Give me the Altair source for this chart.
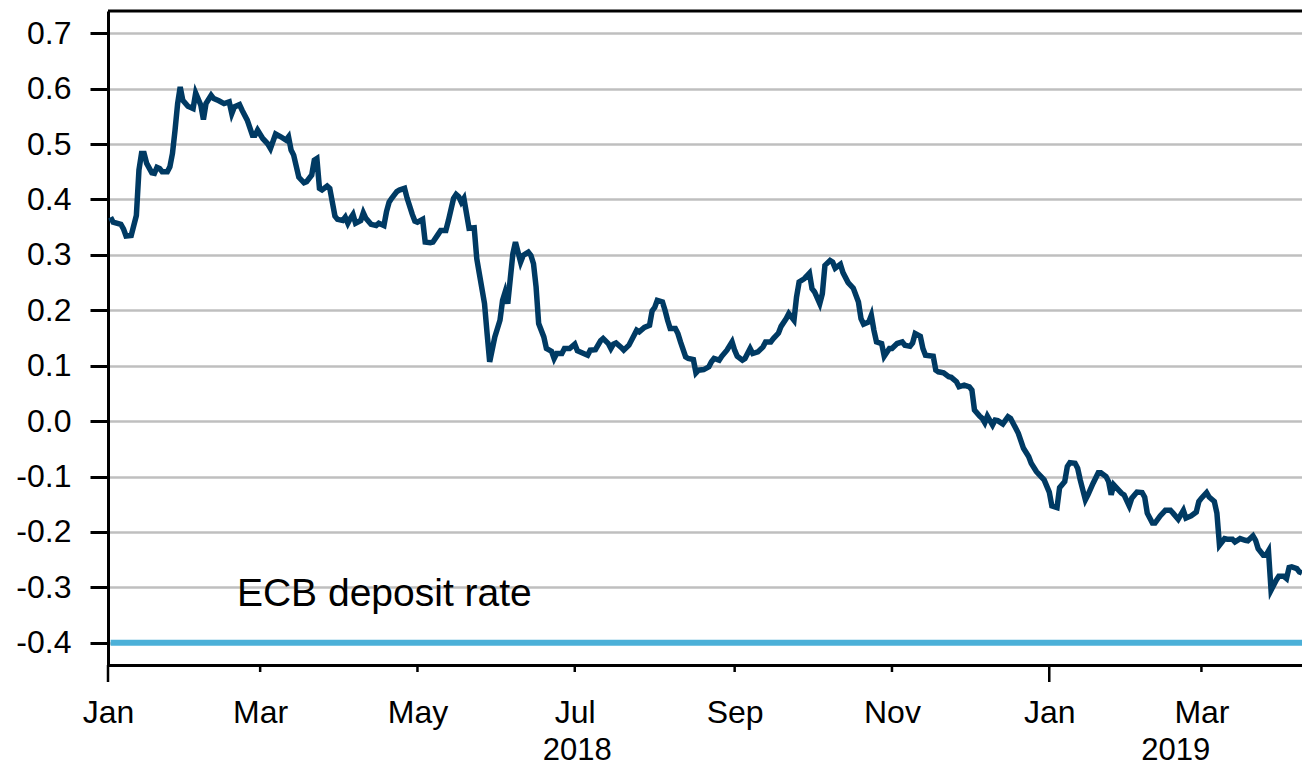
import altair as alt
import pandas as pd

# ---------------- data ----------------
start_date = "2018-01-01"
# observation dates, as days after 1 Jan 2018
day_offsets = [
    1, 2, 5, 6, 7, 9, 10, 11, 12, 13, 14, 15, 17, 18, 19, 20, 21, 23, 24, 25,
    26, 27, 28, 29, 31, 33, 34, 36, 37, 38, 40, 41, 43, 45, 47, 48, 49, 51, 52, 54,
    56, 57, 58, 60, 62, 63, 65, 67, 69, 70, 71, 72, 74, 76, 77, 79, 80, 81, 82, 83,
    85, 86, 88, 89, 91, 92, 93, 94, 95, 96, 98, 99, 100, 102, 104, 105, 107, 108, 109, 110,
    112, 113, 115, 116, 118, 119, 120, 122, 123, 125, 126, 128, 129, 131, 132, 134, 135, 136, 137, 138,
    139, 140, 142, 143, 144, 146, 147, 148, 150, 152, 153, 154, 155, 157, 158, 160, 161, 163, 164, 165,
    166, 167, 169, 170, 172, 173, 174, 176, 177, 179, 181, 182, 184, 186, 187, 189, 191, 192, 194, 195,
    196, 197, 199, 200, 202, 204, 205, 206, 208, 210, 211, 212, 213, 215, 216, 217, 218, 220, 221, 222,
    224, 225, 227, 228, 229, 231, 233, 234, 235, 237, 238, 240, 242, 243, 244, 246, 247, 249, 250, 252,
    254, 255, 257, 258, 260, 261, 263, 264, 266, 267, 268, 270, 272, 273, 274, 276, 277, 278, 280, 281,
    282, 284, 285, 287, 289, 291, 292, 293, 295, 296, 297, 298, 300, 301, 303, 304, 306, 308, 309, 311,
    312, 313, 315, 316, 317, 320, 321, 322, 324, 326, 327, 329, 330, 332, 334, 335, 336, 338, 339, 340,
    341, 343, 344, 345, 347, 349, 350, 352, 353, 355, 357, 358, 360, 361, 363, 365, 366, 368, 369, 371,
    372, 373, 375, 376, 377, 379, 380, 382, 384, 385, 387, 388, 389, 390, 391, 393, 394, 396, 397, 399,
    401, 402, 403, 405, 406, 408, 410, 412, 413, 415, 417, 418, 420, 422, 423, 424, 426, 427, 429, 430,
    431, 433, 434, 436, 437, 439, 441, 442, 444, 445, 446, 448, 449, 450, 451, 453, 454, 456, 457, 458,
    459, 461, 462, 463,
]
yields = [
    0.368, 0.359, 0.355, 0.347, 0.334, 0.335, 0.353, 0.371, 0.453, 0.483, 0.483, 0.465, 0.448, 0.447, 0.458, 0.456, 0.450, 0.450, 0.459, 0.483,
    0.525, 0.573, 0.603, 0.579, 0.568, 0.564, 0.592, 0.570, 0.544, 0.573, 0.588, 0.582, 0.578, 0.573, 0.576, 0.555, 0.567, 0.571, 0.561, 0.543,
    0.516, 0.516, 0.525, 0.510, 0.500, 0.492, 0.518, 0.513, 0.507, 0.513, 0.489, 0.480, 0.440, 0.430, 0.432, 0.444, 0.471, 0.474, 0.420, 0.417,
    0.424, 0.420, 0.370, 0.364, 0.362, 0.368, 0.357, 0.366, 0.373, 0.357, 0.362, 0.376, 0.366, 0.355, 0.353, 0.357, 0.353, 0.378, 0.395, 0.402,
    0.414, 0.417, 0.420, 0.402, 0.373, 0.361, 0.359, 0.364, 0.323, 0.322, 0.323, 0.337, 0.344, 0.344, 0.362, 0.402, 0.409, 0.405, 0.395, 0.402,
    0.375, 0.348, 0.349, 0.293, 0.266, 0.212, 0.158, 0.107, 0.152, 0.182, 0.218, 0.233, 0.212, 0.302, 0.323, 0.287, 0.299, 0.305, 0.299, 0.284,
    0.242, 0.176, 0.152, 0.131, 0.126, 0.113, 0.122, 0.122, 0.131, 0.131, 0.139, 0.127, 0.123, 0.119, 0.128, 0.129, 0.145, 0.149, 0.140, 0.131,
    0.139, 0.141, 0.133, 0.128, 0.137, 0.155, 0.164, 0.161, 0.169, 0.173, 0.199, 0.205, 0.218, 0.215, 0.200, 0.182, 0.167, 0.167, 0.158, 0.143,
    0.116, 0.113, 0.111, 0.087, 0.092, 0.093, 0.098, 0.107, 0.113, 0.110, 0.117, 0.128, 0.143, 0.128, 0.117, 0.110, 0.113, 0.131, 0.122, 0.125,
    0.134, 0.143, 0.143, 0.149, 0.159, 0.171, 0.185, 0.194, 0.182, 0.224, 0.251, 0.257, 0.267, 0.239, 0.233, 0.212, 0.230, 0.281, 0.290, 0.287,
    0.276, 0.283, 0.268, 0.250, 0.240, 0.215, 0.185, 0.175, 0.179, 0.191, 0.164, 0.143, 0.140, 0.117, 0.131, 0.131, 0.140, 0.143, 0.137, 0.135,
    0.141, 0.158, 0.153, 0.131, 0.119, 0.117, 0.092, 0.089, 0.087, 0.080, 0.079, 0.071, 0.062, 0.065, 0.062, 0.056, 0.020, 0.009, 0.005, -0.003,
    0.009, -0.007, 0.002, 0.001, -0.005, 0.008, 0.005, -0.013, -0.022, -0.049, -0.064, -0.076, -0.091, -0.096, -0.106, -0.128, -0.153, -0.156, -0.120, -0.109,
    -0.082, -0.075, -0.076, -0.085, -0.106, -0.142, -0.133, -0.112, -0.093, -0.093, -0.100, -0.109, -0.133, -0.115, -0.120, -0.130, -0.133, -0.153, -0.139, -0.128,
    -0.129, -0.137, -0.166, -0.184, -0.184, -0.171, -0.161, -0.161, -0.166, -0.177, -0.161, -0.175, -0.171, -0.164, -0.145, -0.139, -0.129, -0.137, -0.145, -0.166,
    -0.224, -0.212, -0.213, -0.213, -0.218, -0.212, -0.215, -0.216, -0.207, -0.215, -0.230, -0.242, -0.242, -0.234, -0.305, -0.287, -0.280, -0.280, -0.284, -0.264,
    -0.263, -0.266, -0.272, -0.274,
]

ecb_dates = ["2018-01-02", "2019-04-09"]
ecb_rate = [-0.40, -0.40]

y_ticks = [-0.4, -0.3, -0.2, -0.1, 0.0, 0.1, 0.2, 0.3, 0.4, 0.5, 0.6, 0.7]
year_labels = ["2018", "2019"]
year_label_dates = ["2018-07-02", "2019-02-19"]

annotation_text = ["ECB deposit rate"]
annotation_dates = ["2018-02-20"]
annotation_values = [-0.311]

# ---------------- layout / style ----------------
W, H = 1194, 654
FONT = "Liberation Sans"
NAVY = "#003A63"
SKY = "#4BB0D8"
GRID = "#BFBFBF"

df = pd.DataFrame({
    "date": pd.Timestamp(start_date) + pd.to_timedelta(day_offsets, unit="D"),
    "value": yields,
})
df_ecb = pd.DataFrame({"date": pd.to_datetime(ecb_dates), "value": ecb_rate})
df_years = pd.DataFrame({"date": pd.to_datetime(year_label_dates), "label": year_labels})
df_note = pd.DataFrame({"date": pd.to_datetime(annotation_dates), "value": annotation_values,
                        "label": annotation_text})

tick_dates = pd.date_range("2018-01-01", "2019-03-01", freq="2MS")
df_ticks = pd.DataFrame({"date": tick_dates, "jan": tick_dates.month == 1})

x_domain = [alt.DateTime(year=2018, month=1, date=1), alt.DateTime(year=2019, month=4, date=9)]
x_scale = alt.Scale(domain=x_domain, nice=False)
y_scale = alt.Scale(domain=[-0.44, 0.74], nice=False, zero=False)

x_axis = alt.Axis(
    values=[alt.DateTime(year=int(d.year), month=int(d.month), date=1) for d in tick_dates],
    format="%b", title=None, ticks=False, tickSize=0, grid=False,
    labelFont=FONT, labelFontSize=32, labelColor="black", labelPadding=32,
    labelAngle=0, labelAlign="center", labelFlush=False, labelOverlap=False,
    domainColor="black", domainWidth=3,
)
y_axis = alt.Axis(
    values=y_ticks, title=None,
    labelExpr="replace(format(datum.value, '.1f'), '\u2212', '-')",
    labelFont=FONT, labelFontSize=32, labelColor="black", labelPadding=19,
    tickSize=18, tickWidth=3, tickColor="black",
    domainColor="black", domainWidth=3,
    grid=True, gridColor=GRID, gridWidth=2.5,
)

ecb = alt.Chart(df_ecb).mark_line(color=SKY, strokeWidth=6).encode(
    x=alt.X("date:T", scale=x_scale, axis=x_axis),
    y=alt.Y("value:Q", scale=y_scale, axis=y_axis),
)

main = alt.Chart(df).mark_line(color=NAVY, strokeWidth=5.5).encode(
    x=alt.X("date:T", scale=x_scale, axis=x_axis),
    y=alt.Y("value:Q", scale=y_scale, axis=y_axis),
)

note = alt.Chart(df_note).mark_text(
    font=FONT, fontSize=39, color="black", align="left", baseline="middle"
).encode(
    x=alt.X("date:T", scale=x_scale, axis=x_axis),
    y=alt.Y("value:Q", scale=y_scale, axis=y_axis),
    text="label:N",
)

top_border = alt.Chart(pd.DataFrame({"k": [0]})).mark_rule(color="black", strokeWidth=3).encode(
    x=alt.value(0), x2=alt.value(W), y=alt.value(0)
)

short_ticks = alt.Chart(df_ticks).transform_filter("!datum.jan").mark_rule(
    color="black", strokeWidth=2.5
).encode(
    x=alt.X("date:T", scale=x_scale, axis=x_axis), y=alt.value(H), y2=alt.value(H + 7)
)
long_ticks = alt.Chart(df_ticks).transform_filter("datum.jan").mark_rule(
    color="black", strokeWidth=2.5
).encode(
    x=alt.X("date:T", scale=x_scale, axis=x_axis), y=alt.value(H), y2=alt.value(H + 17)
)

years = alt.Chart(df_years).mark_text(
    font=FONT, fontSize=31, color="black", align="center", baseline="middle"
).encode(
    x=alt.X("date:T", scale=x_scale, axis=x_axis),
    y=alt.value(H + 86),
    text="label:N",
)

chart = alt.layer(ecb, main, note, top_border, short_ticks, long_ticks, years).properties(
    width=W, height=H,
    autosize=alt.AutoSizeParams(type="none"),
    padding={"left": 100, "top": 3, "right": 0, "bottom": 104},
).configure_view(stroke=None).configure(background="white")

chart.save("out.html", embed_options={"renderer": "svg", "actions": False})
